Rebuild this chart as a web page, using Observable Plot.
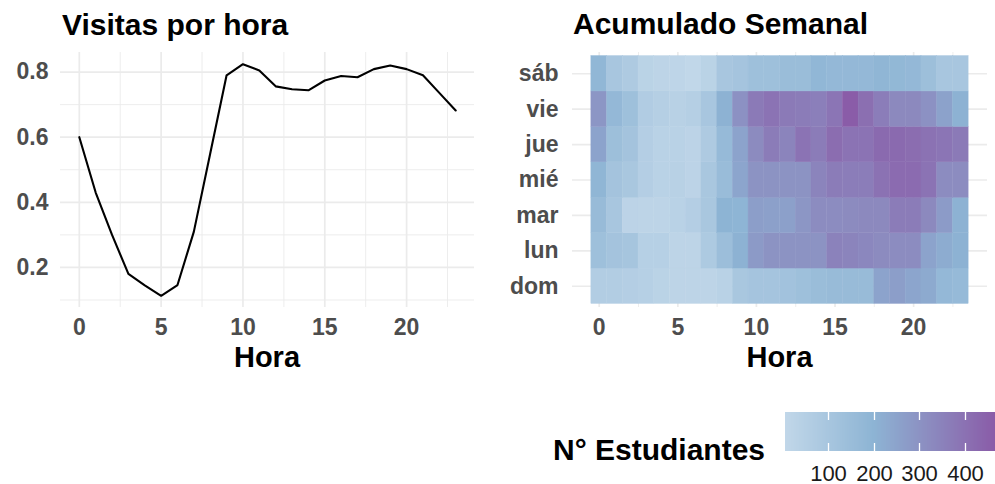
<!DOCTYPE html>
<html><head><meta charset="utf-8">
<script src="https://cdn.jsdelivr.net/npm/d3@7"></script>
<script src="https://cdn.jsdelivr.net/npm/@observablehq/plot@0.6"></script>
<style>
html,body{margin:0;padding:0}
body{width:995px;height:484px;position:relative;background:#fff;font-family:"Liberation Sans",Arial,sans-serif;overflow:hidden}
.abs{position:absolute}
.title{font-weight:bold;font-size:30px;line-height:30px;color:#000;white-space:nowrap}
.axtitle{font-weight:bold;font-size:29px;line-height:29px;color:#000;white-space:nowrap;transform:translateX(-50%)}
.abs svg{display:block}
</style></head><body>
<div class="abs title" style="left:62px;top:9.6px">Visitas por hora</div>
<div class="abs title" style="left:573px;top:9px">Acumulado Semanal</div>
<div id="left" class="abs" style="left:0;top:0;width:490px"></div>
<div id="right" class="abs" style="left:492px;top:0;width:503px"></div>
<div class="abs axtitle" style="left:267px;top:342.5px">Hora</div>
<div class="abs axtitle" style="left:779.5px;top:342.5px">Hora</div>
<div class="abs title" style="left:553px;top:435px">N° Estudiantes</div>
<div id="legend" class="abs" style="left:785px;top:412px;width:210px"></div>
<script>
// ---- data ----
const hours = [0,1,2,3,4,5,6,7,8,9,10,11,12,13,14,15,16,17,18,19,20,21,22,23];
const visitas = [0.60,0.43,0.30,0.18,0.145,0.113,0.146,0.31,0.55,0.79,0.824,0.805,0.756,0.747,0.744,0.774,0.788,0.784,0.809,0.82,0.809,0.79,0.736,0.682];

const days = ["dom","lun","mar","mié","jue","vie","sáb"]; // bottom to top
const dom = [60,60,55,45,30,20,20,20,35,95,110,110,120,135,150,160,160,160,250,265,245,230,175,165];
const lun = [135,115,105,45,45,20,20,80,145,205,280,300,300,300,300,350,345,335,325,320,320,250,225,205];
const mar = [160,100,25,20,20,35,55,95,200,195,265,260,260,290,320,320,325,330,330,370,370,330,275,205];
const mie = [190,115,95,55,35,40,25,95,155,245,300,300,300,300,345,370,365,365,400,420,420,395,320,320];
const jue = [250,140,115,55,35,35,25,75,165,250,325,370,345,395,370,415,395,395,425,425,415,400,390,375];
const vie = [290,175,135,65,50,40,50,100,205,305,375,395,375,370,360,390,466,410,365,330,330,305,255,205];
const sab = [185,100,75,30,20,15,5,30,100,110,135,135,150,150,185,175,175,175,190,180,175,140,100,100];

const xTicks = [0,5,10,15,20];
const xMinor = [2.5,7.5,12.5,17.5,22.5];
const yTicks = [0.2,0.4,0.6,0.8];
const yMinor = [0.1,0.3,0.5,0.7];
const dayTicks = [1,2,3,4,5,6,7];
const legendTicks = [100,200,300,400];

// ---- tables ----
const lineData = hours.map((h,i) => ({hour:h, value:visitas[i]}));
const rows = [dom,lun,mar,mie,jue,vie,sab];
const cells = [];
rows.forEach((r,di) => r.forEach((v,hi) => cells.push({hour:hours[hi], day:di+1, value:v})));

// ---- styles ----
const gridCol = "#ebebeb";
const axisStyle = {fontFamily:"Liberation Sans, Arial, sans-serif", fontSize:"23px", fontWeight:"bold", color:"#4d4d4d", background:"transparent", overflow:"visible"};
const c0 = "#c1d7e9", c1 = "#8db4d4", c2 = "#8a5ca8";
const k = (200-5)/(466-5);
const interp = t => t < k ? d3.interpolateRgb(c0,c1)(t/k) : d3.interpolateRgb(c1,c2)((t-k)/(1-k));
const colorOpts = {type:"linear", domain:[5,466], interpolate: interp};

// ---- left chart ----
const left = Plot.plot({
  width:490, height:380,
  marginLeft:60, marginRight:16, marginTop:52, marginBottom:73,
  style: axisStyle,
  x: {domain:[-1.15,24.15], ticks:xTicks, tickSize:0, tickPadding:11, label:null, tickFormat:d=>String(d)},
  y: {domain:[0.077,0.86], ticks:yTicks, tickSize:0, tickPadding:12, label:null, tickFormat:d3.format(".1f")},
  marks: [
    Plot.ruleY(yMinor, {stroke:gridCol, strokeWidth:0.9}),
    Plot.ruleX(xMinor, {stroke:gridCol, strokeWidth:0.9}),
    Plot.ruleY(yTicks, {stroke:gridCol, strokeWidth:1.7}),
    Plot.ruleX(xTicks, {stroke:gridCol, strokeWidth:1.7}),
    Plot.line(lineData, {x:"hour", y:"value", stroke:"#000", strokeWidth:2.1})
  ]
});
document.getElementById("left").appendChild(left);

// ---- right chart ----
const right = Plot.plot({
  width:503, height:380,
  marginLeft:80, marginRight:8, marginTop:52, marginBottom:73,
  style: axisStyle,
  x: {domain:[-1.7,24.7], ticks:xTicks, tickSize:0, tickPadding:11, label:null, tickFormat:d=>String(d)},
  y: {domain:[0.4,7.6], ticks:dayTicks, tickSize:0, tickPadding:14, label:null, tickFormat:d=>days[d-1]},
  color: colorOpts,
  marks: [
    Plot.ruleX(xMinor, {stroke:gridCol, strokeWidth:0.9}),
    Plot.ruleX(xTicks, {stroke:gridCol, strokeWidth:1.7}),
    Plot.ruleY(dayTicks, {stroke:gridCol, strokeWidth:1.7}),
    Plot.rect(cells, {x1:d=>d.hour-0.5, x2:d=>d.hour+0.5, y1:d=>d.day-0.5, y2:d=>d.day+0.5, fill:"value", stroke:"value", strokeWidth:0.4})
  ]
});
document.getElementById("right").appendChild(right);

// ---- legend ----
const leg = Plot.legend({
  color: colorOpts,
  width:210, height:79, marginTop:0, marginBottom:40, marginLeft:0, marginRight:0,
  ticks: legendTicks, tickSize:11, label:null,
  style: {fontFamily:"Liberation Sans, Arial, sans-serif", fontSize:"22px", color:"#1a1a1a", background:"transparent", overflow:"visible"}
});
d3.select(leg).selectAll(".tick line").attr("stroke","#fff").attr("stroke-width",1.3).attr("stroke-dasharray","8,23,100");
document.getElementById("legend").appendChild(leg);
</script>
</body></html>
